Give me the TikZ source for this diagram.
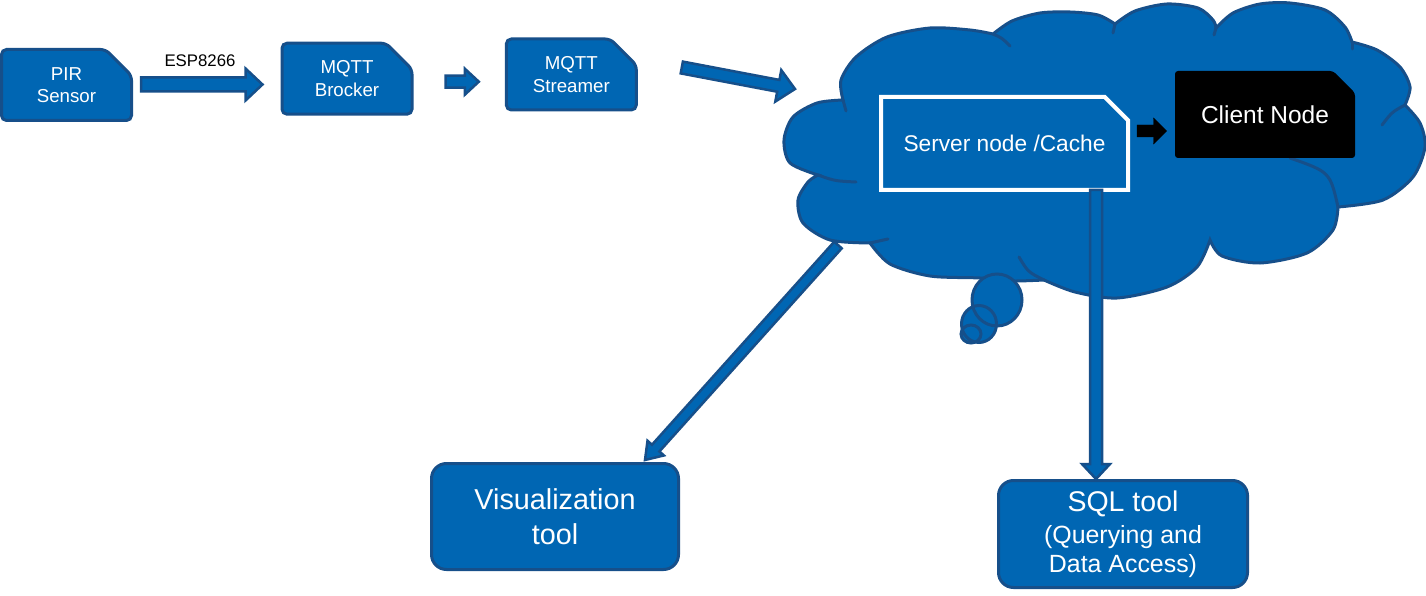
\documentclass[tikz,border=0pt]{standalone}
\usepackage{fontspec}
\setmainfont{Liberation Sans}
\usetikzlibrary{calc,shapes.misc}
\definecolor{boxblue}{RGB}{0,102,179}
\definecolor{edgeblue}{RGB}{22,79,138}

% block arrow: [style]{from}{to}{half shaft}{half head}{head length}
\newcommand{\blockarrow}[6][]{%
	\path (#3) coordinate (tip) ($(#3)!#6!(#2)$) coordinate (neck);
	\filldraw[#1] ($(#2)!#4!90:(#3)$) -- ($(neck)!#4!-90:(#2)$) -- ($(neck)!#5!-90:(#2)$) -- (tip)
	-- ($(neck)!#5!90:(#2)$) -- ($(neck)!#4!90:(#2)$) -- ($(#2)!#4!-90:(#3)$) -- cycle;}

\begin{document}
\begin{tikzpicture}[x=1pt, y=-1pt,
	box/.style={chamfered rectangle, chamfered rectangle corners=north east,
		chamfered rectangle xsep=13pt, chamfered rectangle ysep=13pt, rounded corners=5pt,
		fill=boxblue, draw=edgeblue, line width=3pt, text=white, align=center, inner sep=0pt,
		minimum width=130, minimum height=71, font=\fontsize{18.7}{22.5}\selectfont},
	tool/.style={rectangle, rounded corners=15pt, fill=boxblue, draw=edgeblue, line width=3pt,
		text=white, align=center, inner sep=0pt},
	pipe/.style={fill=boxblue, draw=edgeblue, line width=2.5pt},
	cloudline/.style={draw=edgeblue, line width=3pt, line cap=round}]
	
	\useasboundingbox (0,0) rectangle (1426,596);
	
	% the cloud
	\filldraw[fill=boxblue, cloudline]
	plot[smooth] coordinates {(818,175) (790,163) (784,140) (793,117) (817,103) (843,100)}
	-- plot[smooth] coordinates {(843,100) (841,80) (856,57) (887,37) (930,28) (970,30) (993,34)}
	-- plot[smooth] coordinates {(993,34) (1012,21) (1040,13) (1070,12) (1098,15) (1115,24)}
	-- plot[smooth] coordinates {(1115,24) (1135,11) (1167,4) (1198,8) (1213,20) (1216,28)}
	-- plot[smooth] coordinates {(1216,28) (1233,13) (1260,4) (1290,3) (1325,10) (1345,27) (1352,42)}
	-- plot[smooth] coordinates {(1352,42) (1377,50) (1400,67) (1410,87) (1405,105)}
	-- plot[smooth] coordinates {(1405,105) (1420,123) (1425,147) (1413,177) (1383,200) (1338,207)}
	-- plot[smooth] coordinates {(1338,207) (1333,230) (1307,253) (1260,263) (1222,256) (1210,240)}
	-- plot[smooth] coordinates {(1210,240) (1197,267) (1167,287) (1117,298) (1075,292) (1044,280)}
	-- plot[smooth] coordinates {(1044,280) (1010,281) (980,278) (930,276) (890,264) (870,243)}
	-- plot[smooth] coordinates {(870,243) (830,240) (803,223) (798,200) (808,182) (818,175)}
	-- cycle;
	\draw[cloudline] (843,100) -- (846,111);
	\draw[cloudline] (993,34) .. controls (1002,38) .. (1010,46);
	\draw[cloudline] (1115,24) -- (1113,33);
	\draw[cloudline] (1216,28) -- (1214,35);
	\draw[cloudline] (1352,42) -- (1352,49);
	\draw[cloudline] (1405,105) .. controls (1392,112) .. (1382,125);
	\draw[cloudline] (1338,207) .. controls (1330,172) .. (1290,158);
	\draw[cloudline] (1044,280) .. controls (1028,272) .. (1019,257);
	\draw[cloudline] (870,243) -- (888,239);
	\draw[cloudline] (818,175) .. controls (835,181) .. (856,182);
	\fill[boxblue] (997,300) ellipse [x radius=25, y radius=26]
		(979,324) ellipse [x radius=17.5, y radius=18.5] (971,334) ellipse [x radius=10, y radius=9];
	\draw[cloudline] (997,300) ellipse [x radius=25, y radius=26]
		(979,324) ellipse [x radius=17.5, y radius=18.5] (971,334) ellipse [x radius=10, y radius=9];
	
	% nodes
	\node[box] (pir) at (66.5,85) {PIR\\Sensor};
	\node[box] (broker) at (347,78.7) {MQTT\\Brocker};
	\node[box] (streamer) at (571.3,74.5) {MQTT\\Streamer};
	\node[box, rounded corners=0pt, draw=white, line width=4pt, chamfered rectangle xsep=15pt,
		chamfered rectangle ysep=15pt, minimum width=247, minimum height=93,
		font=\fontsize{22.7}{27}\selectfont] (server) at (1004.5,143.5) {Server node /Cache};
	\node[box, rounded corners=3pt, fill=black, draw=none, minimum width=180, minimum height=87,
		font=\fontsize{24.5}{29}\selectfont] (client) at (1265,114.5) {Client Node};
	\node[tool, minimum width=247, minimum height=106, font=\fontsize{28.8}{34.5}\selectfont]
		(vis) at (555,516.5) {Visualization\\tool};
	\node[tool, minimum width=249, minimum height=107, font=\fontsize{24.9}{29}\selectfont]
		(sql) at (1123,534) {{\fontsize{28.5}{32}\selectfont SQL tool}\\[3pt](Querying and\\Data Access)};
	\node[font=\fontsize{16.8}{20}\selectfont] (esp) at (200,61) {ESP8266};
	
	% arrow ends
	\coordinate (espA) at ($(pir.east)+(8,-0.5)$);
	\coordinate (espB) at ($(broker.west |- espA)+(-18,0)$);
	\coordinate (mqA) at ($(broker.east)+(32,3)$);
	\coordinate (mqB) at ($(streamer.west |- mqA)+(-26,0)$);
	\coordinate (strA) at ($(streamer.east)+(44,-7)$);
	\coordinate (cloudW) at (795,89);
	\coordinate (scA) at ($(server.east)+(7,-12.5)$);
	\coordinate (scB) at ($(client.west |- scA)+(-7,0)$);
	\coordinate (cloudSW) at (838,245);
	\coordinate (visB) at ($(vis.north)+(90,-2)$);
	\coordinate (sqlA) at ($(server.south east)+(-34,-2)$);
	\coordinate (sqlB) at (sqlA |- sql.north);
	
	% arrows
	\blockarrow[pipe]{espA}{espB}{7pt}{16pt}{17pt}
	\blockarrow[pipe]{mqA}{mqB}{6pt}{13pt}{14pt}
	\blockarrow[pipe]{strA}{cloudW}{6pt}{16pt}{17pt}
	\blockarrow[fill=black]{scA}{scB}{6pt}{13pt}{13pt}
	\blockarrow[pipe]{sqlA}{sqlB}{6pt}{14pt}{15pt}
	\blockarrow[pipe]{cloudSW}{visB}{5pt}{11pt}{16pt}
\end{tikzpicture}
\end{document}
